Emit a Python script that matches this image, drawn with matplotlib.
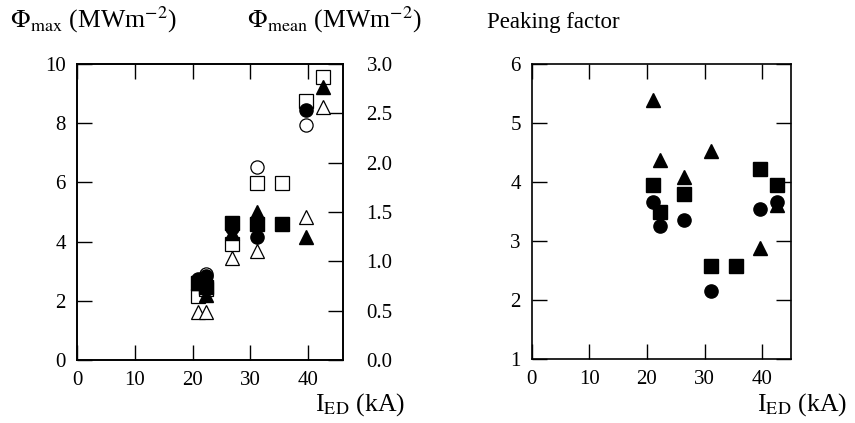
import matplotlib.pyplot as plt
from matplotlib.ticker import FormatStrFormatter

plt.rcParams["font.family"] = ["Liberation Serif", "DejaVu Serif"]
plt.rcParams["mathtext.fontset"] = "stix"

# filled symbols: peak heat flux (left axis, MW m^-2)
i_max_circle = [21.0, 22.3, 26.8, 31.2, 39.7]
phi_max_circle = [2.75, 2.85, 4.45, 4.15, 8.45]
i_max_square = [21.0, 22.3, 26.8, 31.2, 35.5]
phi_max_square = [2.6, 2.45, 4.63, 4.6, 4.6]
i_max_tri = [21.0, 22.3, 26.8, 31.2, 39.7, 42.6]
phi_max_tri = [2.6, 2.2, 4.3, 5.0, 4.16, 9.22]

# open symbols: mean heat flux (right axis, MW m^-2)
i_mean_circle = [21.0, 22.3, 31.2, 39.7, 42.6]
phi_mean_circle = [0.78, 0.87, 1.96, 2.38, 2.87]
i_mean_square = [21.0, 22.3, 26.8, 31.2, 35.5, 39.7, 42.6]
phi_mean_square = [0.65, 0.72, 1.18, 1.79, 1.79, 2.62, 2.87]
i_mean_tri = [21.0, 22.3, 26.8, 31.2, 39.7, 42.6]
phi_mean_tri = [0.49, 0.49, 1.03, 1.10, 1.45, 2.56]

# peaking factor = max / mean
i_pk_circle = [21.0, 22.3, 26.5, 31.2, 39.7, 42.6]
pk_circle = [3.66, 3.25, 3.36, 2.14, 3.54, 3.66]
i_pk_square = [21.0, 22.3, 26.5, 31.2, 35.5, 39.7, 42.6]
pk_square = [3.95, 3.49, 3.80, 2.58, 2.58, 4.22, 3.95]
i_pk_tri = [21.0, 22.3, 26.5, 31.2, 39.7, 42.6]
pk_tri = [5.39, 4.37, 4.08, 4.53, 2.88, 3.60]

FS = 15
ms = 9.5


def style(ax, right=True):
    ax.tick_params(direction="in", length=11, width=1, labelsize=FS,
                   top=True, right=right, pad=8)
    for s in ax.spines.values():
        s.set_linewidth(1.2)


fig = plt.figure(figsize=(8.55, 4.23), dpi=100)

ax1 = fig.add_axes([0.090, 0.149, 0.311, 0.700])
ax1b = ax1.twinx()
ax1.set_zorder(2)
ax1.patch.set_visible(False)
ax1b.set_zorder(1)

for x, y, m in [(i_mean_circle, phi_mean_circle, "o"),
                (i_mean_square, phi_mean_square, "s"),
                (i_mean_tri, phi_mean_tri, "^")]:
    ax1b.plot(x, y, m, ls="none", ms=ms, mfc="white", mec="black", mew=0.9)
for x, y, m in [(i_max_circle, phi_max_circle, "o"),
                (i_max_square, phi_max_square, "s"),
                (i_max_tri, phi_max_tri, "^")]:
    ax1.plot(x, y, m, ls="none", ms=ms, color="black")

ax1.set_xlim(0, 46)
ax1.set_ylim(0, 10)
ax1b.set_ylim(0, 3.0)
ax1.set_xticks([0, 10, 20, 30, 40])
ax1.set_yticks([0, 2, 4, 6, 8, 10])
ax1b.set_yticks([0, 0.5, 1.0, 1.5, 2.0, 2.5, 3.0])
ax1b.yaxis.set_major_formatter(FormatStrFormatter("%.1f"))
style(ax1, right=False)
ax1b.tick_params(direction="in", length=11, width=1, labelsize=FS, pad=17)
for s in ax1b.spines.values():
    s.set_linewidth(1.2)

ax2 = fig.add_axes([0.622, 0.152, 0.303, 0.697])
ax2.plot(i_pk_circle, pk_circle, "o", ms=ms, color="black")
ax2.plot(i_pk_square, pk_square, "s", ms=ms, color="black")
ax2.plot(i_pk_tri, pk_tri, "^", ms=ms, color="black")
ax2.set_xlim(0, 45)
ax2.set_ylim(1, 6)
ax2.set_xticks([0, 10, 20, 30, 40])
ax2.set_yticks([1, 2, 3, 4, 5, 6])
style(ax2)

fig.text(0.012, 0.934, r"$\Phi_{\rm max}$ (MWm$^{-2}$)", fontsize=18.5, va="baseline")
fig.text(0.289, 0.934, r"$\Phi_{\rm mean}$ (MWm$^{-2}$)", fontsize=18.5, va="baseline")
fig.text(0.570, 0.934, "Peaking factor", fontsize=16.5, va="baseline")
fig.text(0.368, 0.030, r"I$_{\rm ED}$ (kA)", fontsize=18.5, va="baseline")
fig.text(0.885, 0.030, r"I$_{\rm ED}$ (kA)", fontsize=18.5, va="baseline")

fig.savefig("out.png", dpi=100)
